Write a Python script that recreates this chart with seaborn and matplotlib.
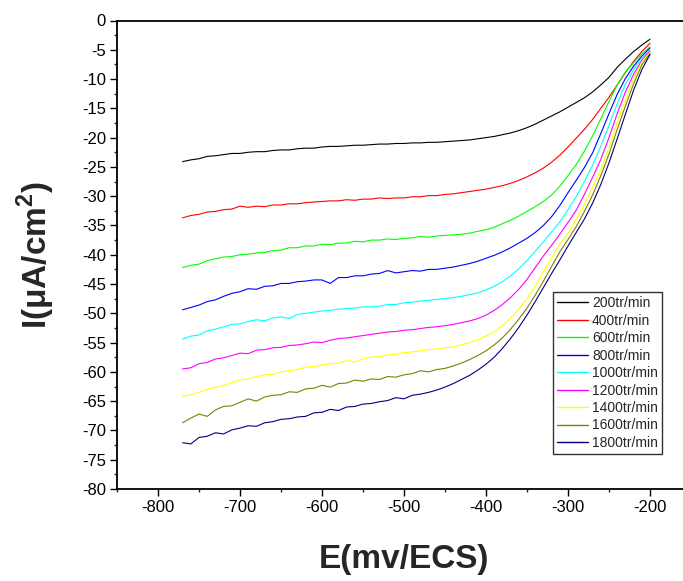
import matplotlib
matplotlib.use("Agg")
import matplotlib.pyplot as plt
from matplotlib.ticker import MultipleLocator
import pandas as pd
import seaborn as sns

# Cathodic polarisation curves, current density vs potential for each rotation speed
potential = [-770, -760, -750, -740, -730, -720, -710, -700, -690, -680,
             -670, -660, -650, -640, -630, -620, -610, -600, -590, -580,
             -570, -560, -550, -540, -530, -520, -510, -500, -490, -480,
             -470, -460, -450, -440, -430, -420, -410, -400, -390, -380,
             -370, -360, -350, -340, -330, -320, -310, -300, -290, -280,
             -270, -260, -250, -240, -230, -220, -210, -200]

i_200 = [-24.1, -23.8, -23.6, -23.2, -23.1, -22.9, -22.7, -22.7, -22.5, -22.4,
         -22.4, -22.2, -22.1, -22.1, -21.9, -21.8, -21.8, -21.6, -21.5, -21.5,
         -21.4, -21.3, -21.3, -21.2, -21.1, -21.1, -21.0, -21.0, -20.9, -20.9,
         -20.8, -20.8, -20.7, -20.6, -20.5, -20.4, -20.2, -20.0, -19.8, -19.5,
         -19.2, -18.8, -18.3, -17.7, -17.0, -16.3, -15.6, -14.8, -14.0, -13.2,
         -12.2, -11.0, -9.7, -8.0, -6.6, -5.3, -4.2, -3.2]
i_400 = [-33.7, -33.3, -33.1, -32.7, -32.6, -32.3, -32.2, -31.7, -31.9, -31.7,
         -31.8, -31.5, -31.5, -31.3, -31.3, -31.1, -31.0, -30.9, -30.8, -30.8,
         -30.6, -30.7, -30.5, -30.5, -30.3, -30.4, -30.3, -30.3, -30.1, -30.1,
         -29.9, -29.9, -29.7, -29.6, -29.4, -29.2, -29.0, -28.8, -28.5, -28.2,
         -27.8, -27.3, -26.7, -26.0, -25.2, -24.2, -23.0, -21.6, -20.1, -18.6,
         -16.9, -15.0, -13.1, -11.0, -8.9, -7.0, -5.3, -3.9]
i_600 = [-42.2, -41.8, -41.6, -41.0, -40.7, -40.4, -40.3, -40.0, -39.9, -39.7,
         -39.6, -39.3, -39.2, -38.8, -38.8, -38.5, -38.5, -38.2, -38.3, -38.0,
         -38.0, -37.7, -37.8, -37.5, -37.5, -37.3, -37.4, -37.2, -37.1, -36.9,
         -37.0, -36.8, -36.7, -36.6, -36.5, -36.3, -36.0, -35.7, -35.3, -34.7,
         -34.1, -33.4, -32.6, -31.8, -30.9, -29.8, -28.3, -26.5, -24.6, -22.3,
         -19.7, -16.8, -13.8, -11.0, -8.8, -7.2, -5.7, -4.5]
i_800 = [-49.4, -49.0, -48.6, -48.0, -47.7, -47.1, -46.6, -46.3, -45.8, -45.9,
         -45.4, -45.3, -44.9, -44.9, -44.6, -44.5, -44.3, -44.3, -44.9, -43.9,
         -43.9, -43.6, -43.6, -43.3, -43.2, -42.7, -43.1, -42.9, -42.7, -42.8,
         -42.5, -42.5, -42.3, -42.1, -41.8, -41.5, -41.1, -40.6, -40.1, -39.5,
         -38.8, -38.0, -37.2, -36.2, -35.0, -33.5, -31.6, -29.4, -27.3, -25.1,
         -22.6, -19.3, -15.9, -12.6, -9.9, -7.8, -6.1, -4.7]
i_1000 = [-54.4, -53.9, -53.7, -53.0, -52.7, -52.3, -51.9, -51.8, -51.4, -51.1,
          -51.3, -50.8, -50.6, -50.9, -50.2, -50.0, -49.8, -49.6, -49.5, -49.3,
          -49.2, -49.1, -48.9, -48.9, -48.8, -48.5, -48.5, -48.2, -48.1, -47.9,
          -47.8, -47.6, -47.5, -47.3, -47.1, -46.8, -46.5, -46.0, -45.4, -44.6,
          -43.6, -42.4, -41.0, -39.4, -37.8, -36.1, -34.4, -32.3, -30.1, -27.5,
          -24.7, -21.5, -17.9, -14.2, -10.9, -8.4, -6.4, -5.0]
i_1200 = [-59.5, -59.3, -58.6, -58.4, -57.8, -57.6, -57.2, -56.8, -56.9, -56.3,
          -56.2, -55.9, -55.8, -55.5, -55.4, -55.2, -54.9, -55.0, -54.6, -54.3,
          -54.2, -54.0, -53.8, -53.6, -53.4, -53.2, -53.1, -52.9, -52.8, -52.6,
          -52.4, -52.3, -52.1, -51.9, -51.6, -51.3, -50.9, -50.3, -49.5, -48.5,
          -47.3, -45.9, -44.2, -42.2, -40.2, -38.4, -36.5, -34.5, -32.4, -29.7,
          -26.8, -23.7, -20.0, -15.9, -12.2, -9.2, -6.8, -5.2]
i_1400 = [-64.2, -63.9, -63.5, -63.0, -62.6, -62.3, -61.8, -61.4, -61.2, -60.8,
          -60.5, -60.4, -60.0, -59.8, -59.6, -59.2, -59.1, -58.8, -58.6, -58.5,
          -58.1, -58.3, -57.8, -57.5, -57.4, -57.1, -57.0, -56.7, -56.6, -56.4,
          -56.2, -56.1, -55.9, -55.7, -55.4, -55.0, -54.5, -53.9, -53.1, -52.1,
          -50.8, -49.3, -47.5, -45.4, -43.0, -40.5, -38.2, -36.3, -34.0, -31.4,
          -28.5, -25.4, -21.7, -17.4, -13.5, -10.0, -7.1, -5.4]
i_1600 = [-68.7, -67.9, -67.2, -67.6, -66.5, -65.9, -65.8, -65.2, -64.6, -65.0,
          -64.3, -64.0, -63.9, -63.4, -63.5, -62.9, -62.8, -62.3, -62.6, -62.0,
          -61.9, -61.4, -61.6, -61.2, -61.3, -60.8, -60.9, -60.5, -60.3, -59.8,
          -60.0, -59.6, -59.4, -59.0, -58.5, -57.9, -57.2, -56.4, -55.4, -54.2,
          -52.7, -51.0, -49.1, -46.9, -44.5, -42.0, -39.5, -37.4, -35.2, -32.6,
          -29.8, -26.5, -22.8, -18.6, -14.6, -10.8, -7.6, -5.6]
i_1800 = [-72.1, -72.3, -71.2, -71.0, -70.4, -70.6, -69.9, -69.6, -69.2, -69.3,
          -68.7, -68.5, -68.1, -68.0, -67.7, -67.6, -67.0, -66.9, -66.4, -66.6,
          -66.0, -65.9, -65.5, -65.4, -65.1, -64.9, -64.4, -64.6, -64.0, -63.8,
          -63.5, -63.1, -62.6, -62.0, -61.3, -60.6, -59.7, -58.7, -57.5, -56.0,
          -54.3, -52.4, -50.3, -48.0, -45.6, -43.2, -40.9, -38.5, -36.2, -33.9,
          -31.2, -28.0, -24.3, -20.2, -16.0, -11.9, -8.4, -5.8]

speeds = ["200tr/min", "400tr/min", "600tr/min", "800tr/min", "1000tr/min",
          "1200tr/min", "1400tr/min", "1600tr/min", "1800tr/min"]
currents = [i_200, i_400, i_600, i_800, i_1000, i_1200, i_1400, i_1600, i_1800]
colors = ["#000000", "#FF0000", "#00FF00", "#0000FF", "#00FFFF",
          "#FF00FF", "#FFFF00", "#808000", "#000080"]

y_ticks = [0, -5, -10, -15, -20, -25, -30, -35, -40,
           -45, -50, -55, -60, -65, -70, -75, -80]
x_ticks = [-800, -700, -600, -500, -400, -300, -200]

for vals in currents:
    assert len(vals) == len(potential)

df = pd.concat(
    [pd.DataFrame({"E": potential, "I": vals, "speed": name})
     for name, vals in zip(speeds, currents)],
    ignore_index=True,
)

sns.set_theme(style="ticks")
plt.rcParams["font.family"] = ["Liberation Sans", "DejaVu Sans"]
plt.rcParams["axes.unicode_minus"] = False
plt.rcParams["mathtext.fontset"] = "custom"
plt.rcParams["mathtext.rm"] = "Liberation Sans"
plt.rcParams["mathtext.bf"] = "Liberation Sans:bold"

W, H = 683, 581
fig = plt.figure(figsize=(W / 100, H / 100), dpi=100)
fig.patch.set_facecolor("white")
ax = fig.add_axes([117 / W, 92 / H, 574 / W, 468.5 / H])
ax.set_facecolor("white")

sns.lineplot(data=df, x="E", y="I", hue="speed", hue_order=speeds,
             palette=colors, estimator=None, sort=False, linewidth=0.8,
             ax=ax, legend=True)

ax.set_xlim(-850, -150)
ax.set_ylim(-80, 0)
ax.set_xticks(x_ticks)
ax.set_yticks(y_ticks)
ax.set_xticklabels([str(v) for v in x_ticks])
ax.set_yticklabels([str(v) for v in y_ticks])
ax.xaxis.set_minor_locator(MultipleLocator(50))
ax.yaxis.set_minor_locator(MultipleLocator(2.5))
ax.tick_params(axis="both", which="major", direction="out", length=5,
               width=1.0, labelsize=12, colors="black", pad=3)
ax.tick_params(axis="both", which="minor", direction="out", length=2.5,
               width=1.0)
ax.tick_params(top=False, right=False, which="both")

for side in ["left", "bottom", "top"]:
    ax.spines[side].set_linewidth(1.3)
    ax.spines[side].set_color("black")
ax.spines["right"].set_visible(False)

ax.set_xlabel("E(mv/ECS)", fontsize=24, fontweight="bold")
ax.set_ylabel("I(μA/cm$^{\\mathbf{2}}$)", fontsize=24, fontweight="bold")
ax.xaxis.set_label_coords(0.5, -0.118)
ax.yaxis.set_label_coords(-0.105, 0.5)

handles, labels = ax.get_legend_handles_labels()
leg = ax.legend(handles, labels, loc="upper left",
                bbox_to_anchor=(553 / W, 1 - 292 / H),
                bbox_transform=fig.transFigure,
                fontsize=10, frameon=True, fancybox=False, shadow=False,
                borderaxespad=0, borderpad=0.3, labelspacing=0.25,
                handlelength=2.2, handletextpad=0.3)
leg.get_frame().set_edgecolor("black")
leg.get_frame().set_linewidth(1.0)
for line in leg.get_lines():
    line.set_linewidth(1.0)

fig.savefig("out.png", dpi=100, facecolor="white")
